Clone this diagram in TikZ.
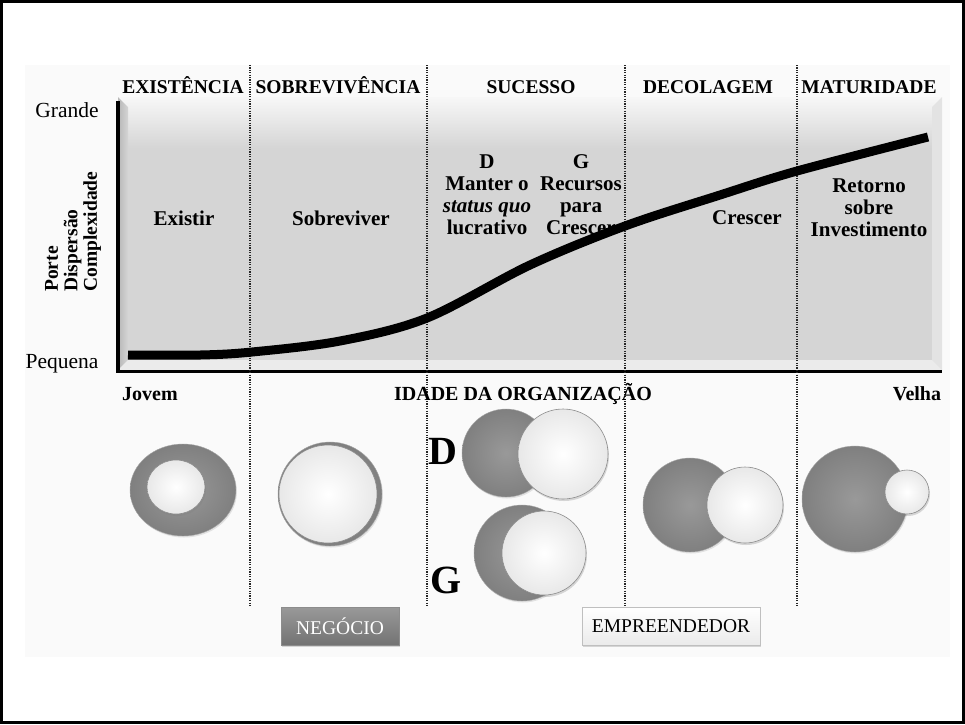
\documentclass[tikz,border=0pt]{standalone}
\usepackage{fontspec}
\setmainfont{Liberation Serif}
\usetikzlibrary{shapes.geometric,shadows}
\definecolor{plotgray}{HTML}{D5D5D5}
\definecolor{bgc}{HTML}{FAFAFA}
\tikzset{
  hdr/.style={font=\bfseries\fontsize{19.5}{21}\selectfont, inner sep=0pt, anchor=base},
  inlbl/.style={font=\bfseries\fontsize{21}{22}\selectfont, align=center, inner sep=0pt},
  axlbl/.style={font=\fontsize{21.5}{23}\selectfont, inner sep=0pt},
  agelbl/.style={font=\bfseries\fontsize{20}{21}\selectfont, inner sep=0pt, anchor=base},
  phase/.style={line width=2pt, dash pattern=on 1.2pt off 1.2pt, black!85},
  graycirc/.style={circle, inner sep=0pt, draw=black!35, line width=0.4pt, inner color=black!40, outer color=black!50, drop shadow={opacity=0.2, shadow xshift=1pt, shadow yshift=-1.5pt}},
  whitecirc/.style={circle, inner sep=0pt, draw=black!45, line width=0.6pt, inner color=white, outer color=black!9, drop shadow={opacity=0.3, shadow xshift=1pt, shadow yshift=-2pt}},
  biglet/.style={font=\bfseries\fontsize{40}{40}\selectfont, inner sep=0pt},
  tagbox/.style={minimum height=38pt, inner sep=0pt, font=\fontsize{19.5}{21}\selectfont}
}
\begin{document}
\begin{tikzpicture}[x=1pt,y=-1pt]
\useasboundingbox (0,0) rectangle (965,724);
% background
\fill[white] (0,0) rectangle (965,724);
\fill[bgc] (25,65) rectangle (950,657);
% plot box with bevel
\fill[plotgray] (118,97) rectangle (942,370);
\shade[top color=white!97!black, bottom color=plotgray] (118,97) -- (942,97) -- (932,148) -- (128,148) -- cycle;
\fill[black!11] (932,107) -- (942,97) -- (942,370) -- (932,360) -- cycle;
\shade[left color=black!28, right color=plotgray] (118,97) -- (128,107) -- (128,360) -- (118,370) -- cycle;
\fill[black!8] (118,370) -- (128,360) -- (932,360) -- (942,370) -- cycle;
% axes
\draw[line width=4.5pt] (118,101) -- (118,372);
\draw[line width=3pt] (116,371) -- (942,371);
% phase separators
\foreach \xx in {250,427,625,797} \draw[phase] (\xx,65) -- (\xx,606);
% growth curve
\draw[line width=9pt] plot[smooth, tension=0.55] coordinates {(128,355) (200,355) (252,352) (340,341) (427,318) (530,265) (625,226) (720,195) (797,171) (928,137)};
% headers
\node[hdr] (h1) at (183,93) {EXISTÊNCIA};
\node[hdr] (h2) at (338,93) {SOBREVIVÊNCIA};
\node[hdr] (h3) at (531,93) {SUCESSO};
\node[hdr] (h4) at (708,93) {DECOLAGEM};
\node[hdr] (h5) at (869,93) {MATURIDADE};
% y axis labels
\node[axlbl] (grande) at (67,110) {Grande};
\node[axlbl] (pequena) at (62,364) {Pequena};
\node[rotate=90, anchor=west, align=left, font=\bfseries\fontsize{19.5}{19.5}\selectfont, inner sep=0pt] (yl) at (73,292) {Porte\\Dispersão\\Complexidade};
% inner labels
\node[inlbl] (existir) at (184,218) {Existir};
\node[inlbl] (sobrev) at (341,218) {Sobreviver};
\node[inlbl] (dlab) at (487,195) {D\\Manter o\\\textit{status quo}\\lucrativo};
\node[inlbl] (glab) at (581,195) {G\\Recursos\\para\\Crescer};
\node[inlbl] (crescer) at (747,218) {Crescer};
\node[inlbl] (retorno) at (869,208) {Retorno\\sobre\\Investimento};
% age labels
\node[agelbl] (jovem) at (150,400) {Jovem};
\node[agelbl] (idade) at (523,400) {IDADE DA ORGANIZAÇÃO};
\node[agelbl] (velha) at (917,400) {Velha};
% circles
\node[graycirc, ellipse, minimum width=106pt, minimum height=92pt] (c1g) at (183,490) {};
\node[whitecirc, ellipse, minimum width=58pt, minimum height=54pt] (c1w) at (176,487) {};
\node[graycirc, minimum size=104pt] (c2g) at (330,494) {};
\node[whitecirc, minimum size=98pt] (c2w) at (328,494) {};
\node[graycirc, minimum size=88pt] (c3g) at (506,453) {};
\node[whitecirc, minimum size=90pt] (c3w) at (563,454) {};
\node[graycirc, minimum size=96pt] (c4g) at (522,553) {};
\node[whitecirc, minimum size=84pt] (c4w) at (544,553) {};
\node[graycirc, minimum size=94pt] (c5g) at (690,505) {};
\node[whitecirc, minimum size=76pt] (c5w) at (745,505) {};
\node[graycirc, minimum size=106pt] (c6g) at (855,499) {};
\node[whitecirc, minimum size=44pt] (c6w) at (907,492) {};
\node[biglet] (bigd) at (443,451) {D};
\node[biglet] (bigg) at (446,580) {G};
% tags
\node[tagbox, minimum width=118pt, text=white, top color=black!40, bottom color=black!55, draw=black!45, drop shadow={opacity=0.3, shadow xshift=1pt, shadow yshift=-2pt}] (neg) at (340,626) {NEGÓCIO};
\node[tagbox, minimum width=178pt, top color=white, bottom color=black!8, draw=black!25, drop shadow={opacity=0.3, shadow xshift=1pt, shadow yshift=-2pt}] (emp) at (671,626) {EMPREENDEDOR};
% outer frame
\draw[line width=2.2pt] (1.5,1.5) rectangle (963.5,722.5);
\end{tikzpicture}
\end{document}
